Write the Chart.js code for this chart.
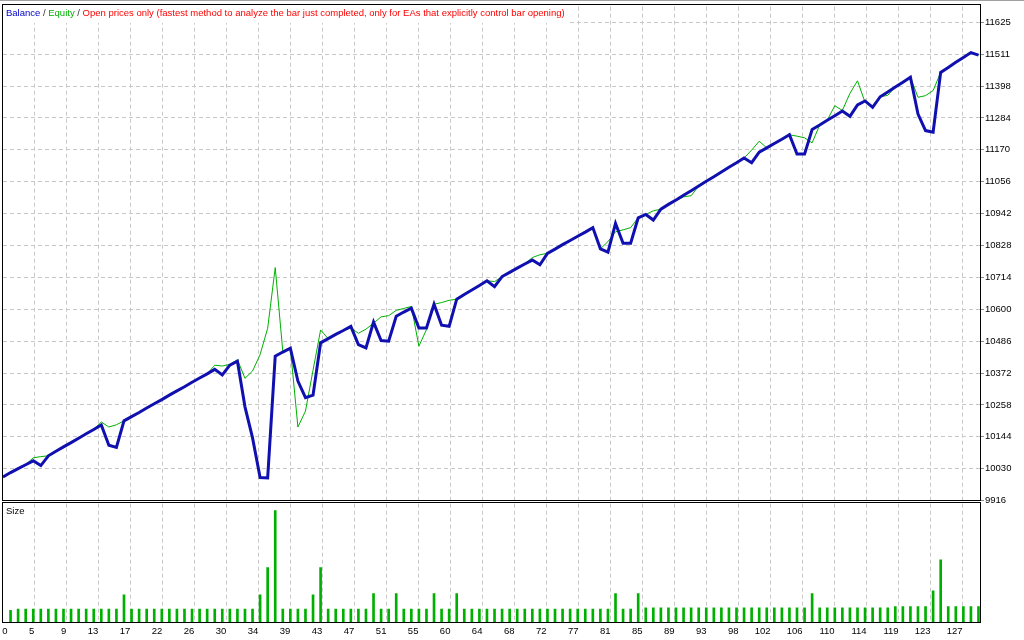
<!DOCTYPE html>
<html>
<head>
<meta charset="utf-8">
<script src="https://cdn.jsdelivr.net/npm/chart.js@4/dist/chart.umd.min.js"></script>
<style>
  html, body { margin: 0; padding: 0; background: #fff; }
  #wrap { width: 1024px; height: 640px; }
</style>
</head>
<body>
<div id="wrap"><canvas id="tester" width="1024" height="640"></canvas></div>
<script>
'use strict';

// balance after each closed trade (index 0 = deposit)
var balance = [
  10000, 10016, 10030, 10044, 10058, 10041, 10076, 10092, 10108, 10123,
  10139, 10155, 10170, 10186, 10114, 10106, 10201, 10216, 10231, 10247,
  10262, 10277, 10293, 10308, 10323, 10339, 10354, 10369, 10385, 10365,
  10400, 10414, 10251, 10140, 9998, 9997, 10432, 10447, 10461, 10343,
  10284, 10293, 10480, 10495, 10510, 10524, 10539, 10474, 10462, 10554,
  10488, 10486, 10575, 10590, 10604, 10533, 10533, 10618, 10543, 10539,
  10636, 10653, 10669, 10685, 10702, 10681, 10717, 10732, 10747, 10762,
  10776, 10759, 10800, 10815, 10831, 10846, 10861, 10876, 10892, 10816,
  10804, 10907, 10836, 10836, 10927, 10939, 10919, 10958, 10975, 10991,
  11008, 11024, 11041, 11058, 11074, 11091, 11108, 11124, 11141, 11124,
  11162, 11177, 11193, 11208, 11224, 11155, 11155, 11243, 11259, 11276,
  11292, 11309, 11290, 11331, 11345, 11322, 11360, 11377, 11395, 11412,
  11430, 11298, 11239, 11233, 11447, 11465, 11483, 11500, 11518, 11509
];

var equity = [
  10000, 10016, 10030, 10044, 10069, 10073, 10076, 10092, 10108, 10123,
  10139, 10155, 10170, 10197, 10179, 10187, 10201, 10216, 10231, 10247,
  10262, 10277, 10293, 10308, 10323, 10339, 10354, 10369, 10400, 10397,
  10403, 10420, 10353, 10379, 10438, 10532, 10749, 10450, 10461, 10179,
  10236, 10382, 10526, 10495, 10510, 10524, 10533, 10514, 10529, 10550,
  10573, 10577, 10596, 10603, 10610, 10468, 10527, 10618, 10624, 10632,
  10636, 10653, 10669, 10685, 10702, 10699, 10717, 10732, 10747, 10762,
  10785, 10795, 10800, 10815, 10831, 10846, 10861, 10876, 10892, 10816,
  10842, 10877, 10884, 10892, 10927, 10939, 10952, 10958, 10975, 10988,
  11002, 11006, 11041, 11058, 11074, 11091, 11108, 11124, 11141, 11169,
  11201, 11177, 11193, 11208, 11224, 11219, 11213, 11195, 11259, 11276,
  11328, 11311, 11372, 11417, 11340, 11328, 11360, 11365, 11395, 11412,
  11430, 11358, 11364, 11382, 11447, 11465, 11483, 11500, 11518, 11509
];

// lot size of trades 1..129
var sizes = [
  0.09, 0.10, 0.10, 0.10, 0.10, 0.10, 0.10, 0.10, 0.10, 0.10,
  0.10, 0.10, 0.10, 0.10, 0.10, 0.21, 0.10, 0.10, 0.10, 0.10,
  0.10, 0.10, 0.10, 0.10, 0.10, 0.10, 0.10, 0.10, 0.10, 0.10,
  0.10, 0.10, 0.10, 0.21, 0.42, 0.86, 0.10, 0.10, 0.10, 0.10,
  0.21, 0.42, 0.10, 0.10, 0.10, 0.10, 0.10, 0.10, 0.22, 0.10,
  0.10, 0.22, 0.10, 0.10, 0.10, 0.10, 0.22, 0.10, 0.10, 0.22,
  0.10, 0.10, 0.10, 0.10, 0.10, 0.10, 0.10, 0.10, 0.10, 0.10,
  0.10, 0.10, 0.10, 0.10, 0.10, 0.10, 0.10, 0.10, 0.10, 0.10,
  0.22, 0.10, 0.10, 0.22, 0.11, 0.11, 0.11, 0.11, 0.11, 0.11,
  0.11, 0.11, 0.11, 0.11, 0.11, 0.11, 0.11, 0.11, 0.11, 0.11,
  0.11, 0.11, 0.11, 0.11, 0.11, 0.11, 0.22, 0.11, 0.11, 0.11,
  0.11, 0.11, 0.11, 0.11, 0.11, 0.11, 0.11, 0.12, 0.12, 0.12,
  0.12, 0.12, 0.24, 0.48, 0.12, 0.12, 0.12, 0.12, 0.12
];

var yTickLabels = [9916, 10030, 10144, 10258, 10372, 10486, 10600, 10714,
  10828, 10942, 11056, 11170, 11284, 11398, 11511, 11625];

var xTickLabels = ['0', '5', '9', '13', '17', '22', '26', '30', '34', '39', '43',
  '47', '51', '55', '60', '64', '68', '72', '77', '81', '85', '89', '93', '98',
  '102', '106', '110', '114', '119', '123', '127'];

var titleParts = [
  ['Balance', '#0000c8'],
  [' / ', '#303030'],
  ['Equity', '#00b000'],
  [' / ', '#303030'],
  ['Open prices only (fastest method to analyze the bar just completed, only for EAs that explicitly control bar opening)', '#ff0000']
];

var FONT = 'Liberation Sans';
var FSIZE = 9.5;
var BLUE = '#1010b0';
var GREEN = '#00b000';
var GRID = '#c8c8c8';

// vertical grid every 32px, first one at 4.14 trades; "0" sits at the left edge
var xGridStep = 4.233;
var xTickPos = xTickLabels.map(function(l, i) {
  return i === 0 ? 0.6 : 4.14 + (i - 1) * xGridStep;
});

var frame = {
  id: 'frame',
  afterDraw: function(chart) {
    var c = chart.ctx;
    c.save();
    c.fillStyle = '#fff';
    c.fillRect(3, 501, 977, 1);
    c.strokeStyle = '#000';
    c.lineWidth = 1;
    c.strokeRect(2.5, 4.5, 978, 496);
    c.strokeRect(2.5, 502.5, 978, 120);
    c.strokeStyle = '#a0a0a0';
    c.beginPath();
    c.moveTo(0, 0.5);
    c.lineTo(1024, 0.5);
    c.stroke();

    c.font = FSIZE + 'px "' + FONT + '"';
    c.textBaseline = 'middle';
    var w = 0;
    titleParts.forEach(function(p) { w += c.measureText(p[0]).width; });
    c.fillStyle = '#fff';
    c.fillRect(3, 5, w + 6, 18);
    var x = 6;
    titleParts.forEach(function(p) {
      c.fillStyle = p[1];
      c.fillText(p[0], x, 13.5);
      x += c.measureText(p[0]).width;
    });
    c.fillStyle = '#000';
    c.fillText('Size', 6, 511);
    c.restore();
  }
};

var ctx = document.getElementById('tester');

var chart = new Chart(ctx, {
  type: 'line',
  data: {
    datasets: [{
      label: 'Balance',
      data: balance.map(function(v, i) { return { x: i, y: v }; }),
      borderColor: BLUE,
      borderWidth: 3,
      pointRadius: 0,
      tension: 0,
      yAxisID: 'y'
    }, {
      label: 'Equity',
      data: equity.map(function(v, i) { return { x: i, y: v }; }),
      borderColor: GREEN,
      borderWidth: 1,
      pointRadius: 0,
      tension: 0,
      yAxisID: 'y'
    }, {
      type: 'bar',
      label: 'Size',
      data: sizes.map(function(v, i) { return { x: i + 1, y: v }; }),
      backgroundColor: GREEN,
      barThickness: 2,
      yAxisID: 'y2'
    }]
  },
  options: {
    responsive: false,
    animation: false,
    layout: { padding: { left: 3, top: 4, right: 0, bottom: 0 } },
    plugins: { legend: { display: false }, tooltip: { enabled: false } },
    scales: {
      x: {
        type: 'linear',
        position: 'bottom',
        offset: false,
        min: 0,
        max: 129.2,
        afterBuildTicks: function(s) {
          s.ticks = xTickPos.map(function(v) { return { value: v }; });
        },
        afterFit: function(s) {
          s.height = 18;
          s.paddingLeft = 0;
          s.paddingRight = 0;
        },
        grid: {
          offset: false,
          color: function(c) { return c.index === 0 ? 'rgba(0,0,0,0)' : GRID; },
          drawTicks: false
        },
        border: { display: false, dash: [4, 3] },
        ticks: {
          align: 'end',
          autoSkip: false,
          maxRotation: 0,
          padding: 4,
          color: '#000',
          font: { family: FONT, size: FSIZE },
          callback: function(v, i) { return xTickLabels[i]; }
        }
      },
      y: {
        type: 'linear',
        position: 'right',
        stack: 'tester',
        stackWeight: 496,
        min: 9916,
        max: 11682,
        afterBuildTicks: function(s) {
          s.ticks = yTickLabels.map(function(v) { return { value: v }; });
        },
        afterFit: function(s) { s.width = 44; },
        grid: { color: GRID, tickColor: '#909090', tickLength: 4 },
        border: { display: false, dash: [4, 3] },
        ticks: {
          padding: 1,
          color: '#000',
          font: { family: FONT, size: FSIZE },
          callback: function(v) { return String(v); }
        }
      },
      y2: {
        type: 'linear',
        position: 'right',
        stack: 'tester',
        stackWeight: 122,
        min: 0,
        max: 0.938,
        afterFit: function(s) { s.width = 44; },
        grid: { display: false },
        border: { display: false },
        ticks: { display: false }
      }
    }
  },
  plugins: [frame]
});
</script>
</body>
</html>
